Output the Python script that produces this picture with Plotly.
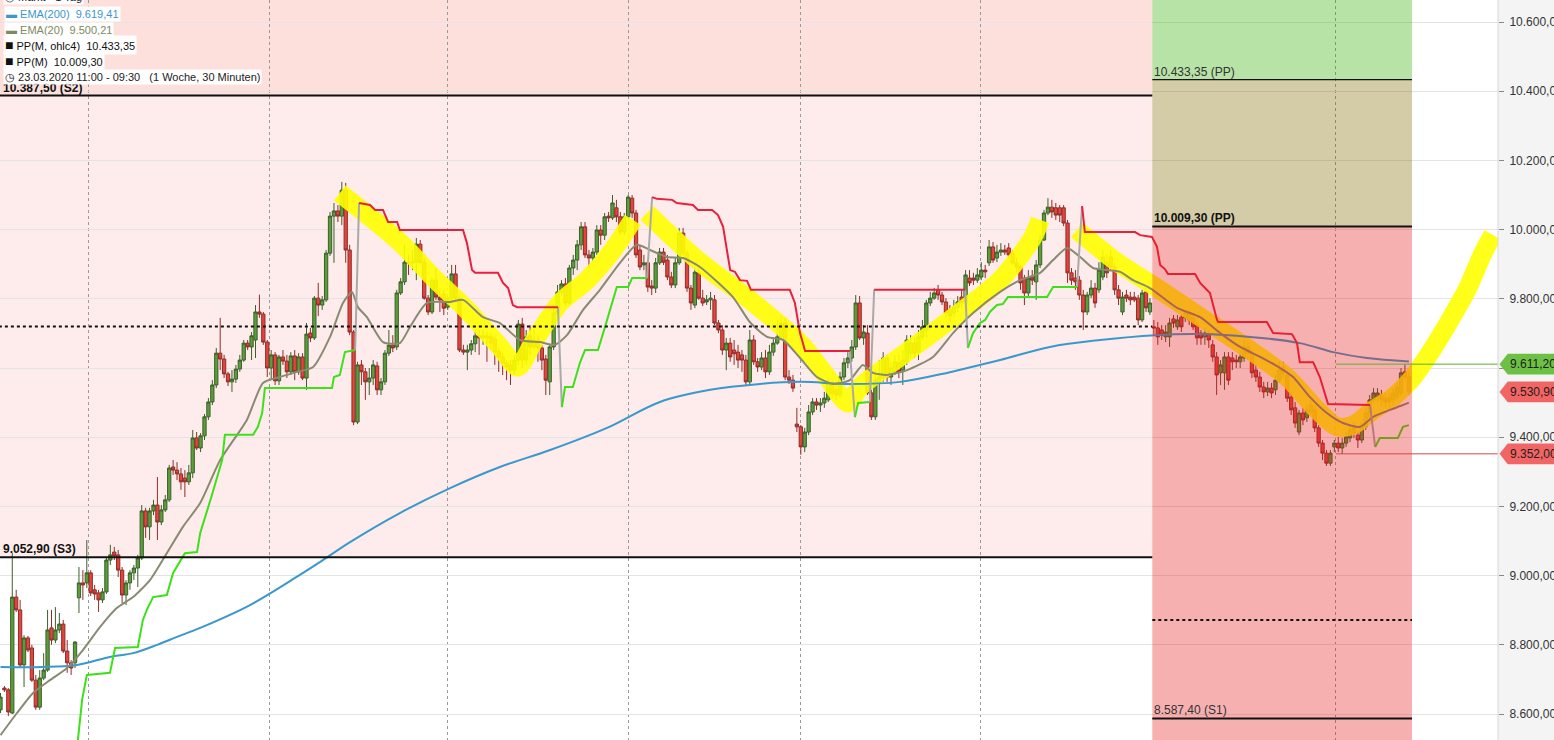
import plotly.graph_objects as go

# ---------------- candle data (30-minute bars) ----------------
opens = [8612, 8675, 8670, 8603, 8938, 8901, 8742, 8820, 8791, 8698,
         8620, 8704, 8727, 8849, 8814, 8843, 8860, 8782, 8748, 8748,
         8936, 8979, 8979, 9008, 8959, 8950, 8930, 8953, 9045, 9068,
         9060, 9016, 8944, 8979, 9008, 9022, 9051, 9187, 9141, 9187,
         9204, 9155, 9190, 9219, 9314, 9305, 9294, 9282, 9271, 9297,
         9398, 9369, 9404, 9459, 9502, 9551, 9643, 9626, 9583, 9560,
         9568, 9597, 9623, 9672, 9661, 9681, 9762, 9756, 9675, 9600,
         9638, 9563, 9632, 9620, 9589, 9635, 9589, 9632, 9571, 9701,
         9687, 9802, 9782, 9797, 9932, 10039, 10054, 10039, 10114, 9941,
         9704, 9444, 9609, 9589, 9560, 9571, 9606, 9537, 9560, 9643,
         9666, 9661, 9817, 9849, 9906, 9904, 9906, 9958, 9906, 9802,
         9762, 9854, 9805, 9814, 9776, 9802, 9872, 9802, 9652, 9646,
         9652, 9670, 9693, 9687, 9693, 9690, 9684, 9649, 9632, 9615,
         9609, 9594, 9623, 9727, 9623, 9693, 9661, 9681, 9658, 9626,
         9560, 9661, 9759, 9820, 9843, 9788, 9889, 9912, 9956, 10008,
         9927, 9918, 9935, 9999, 9984, 10039, 10034, 10063, 10037, 9993,
         10037, 10091, 10048, 9941, 9898, 9904, 9837, 9831, 9904, 9935,
         9912, 9863, 9840, 9904, 9990, 9932, 9831, 9782, 9875, 9802,
         9791, 9797, 9797, 9730, 9710, 9652, 9672, 9652, 9646, 9638,
         9623, 9560, 9681, 9618, 9603, 9629, 9589, 9646, 9672, 9690,
         9730, 9574, 9565, 9438, 9430, 9372, 9415, 9473, 9502, 9493,
         9499, 9508, 9554, 9537, 9522, 9574, 9615, 9629, 9661, 9788,
         9687, 9701, 9528, 9459, 9560, 9571, 9629, 9574, 9589, 9615,
         9594, 9618, 9643, 9672, 9646, 9690, 9710, 9788, 9802, 9826,
         9811, 9791, 9768, 9759, 9776, 9805, 9788, 9860, 9860, 9854,
         9863, 9883, 9904, 9950, 9918, 9935, 9941, 9947, 9932, 9904,
         9892, 9860, 9817, 9863, 9849, 9898, 9970, 10048, 10065, 10063,
         10063, 10063, 10019, 9875, 9860, 9854, 9811, 9762, 9811, 9831,
         9826, 9863, 9906, 9921, 9892, 9826, 9762, 9811, 9805, 9805,
         9802, 9739, 9820, 9762, 9719, 9716, 9710, 9690, 9690, 9742,
         9719, 9747, 9745, 9759, 9745, 9724, 9701, 9690, 9701, 9667,
         9632, 9586, 9586, 9632, 9629, 9623, 9618, 9629, 9661, 9643,
         9594, 9574, 9545, 9531, 9542, 9537, 9565, 9603, 9580, 9516,
         9485, 9415, 9470, 9456, 9473, 9479, 9427, 9383, 9354, 9325,
         9372, 9383, 9369, 9383, 9398, 9427, 9406, 9392, 9430, 9459,
         9508, 9516, 9522, 9513, 9513, 9508, 9516, 9528, 9589, 9574]

closes = [8649, 8670, 8606, 8938, 8901, 8742, 8820, 8785, 8698, 8620,
          8704, 8727, 8843, 8814, 8843, 8860, 8782, 8748, 8733, 8808,
          8979, 8973, 9008, 8950, 8947, 8930, 8953, 9045, 9060, 9057,
          9016, 8944, 8979, 9008, 9022, 9051, 9187, 9141, 9187, 9204,
          9155, 9190, 9219, 9311, 9305, 9294, 9271, 9271, 9297, 9398,
          9369, 9404, 9459, 9502, 9551, 9643, 9626, 9583, 9560, 9568,
          9597, 9623, 9672, 9661, 9693, 9762, 9756, 9675, 9600, 9638,
          9563, 9632, 9620, 9589, 9635, 9589, 9632, 9571, 9698, 9687,
          9802, 9782, 9797, 9932, 10039, 10054, 10039, 10114, 9941, 9704,
          9444, 9609, 9589, 9560, 9571, 9609, 9537, 9560, 9643, 9666,
          9658, 9817, 9849, 9906, 9904, 9906, 9958, 9906, 9802, 9762,
          9854, 9805, 9797, 9773, 9802, 9872, 9802, 9652, 9646, 9652,
          9670, 9693, 9687, 9693, 9687, 9672, 9646, 9632, 9615, 9603,
          9594, 9623, 9727, 9623, 9690, 9661, 9681, 9658, 9623, 9565,
          9661, 9759, 9820, 9843, 9788, 9889, 9912, 9956, 10008, 9927,
          9918, 9935, 9999, 9984, 10037, 10034, 10077, 10037, 9993, 10037,
          10094, 10048, 9927, 9892, 9904, 9834, 9831, 9904, 9935, 9906,
          9863, 9840, 9904, 9990, 9932, 9831, 9788, 9877, 9802, 9788,
          9797, 9802, 9730, 9710, 9652, 9672, 9632, 9641, 9623, 9623,
          9560, 9681, 9618, 9603, 9629, 9589, 9646, 9672, 9690, 9730,
          9574, 9565, 9542, 9430, 9372, 9415, 9473, 9502, 9493, 9499,
          9513, 9557, 9528, 9522, 9574, 9615, 9629, 9661, 9788, 9687,
          9704, 9528, 9459, 9565, 9574, 9629, 9574, 9600, 9618, 9589,
          9623, 9681, 9672, 9643, 9690, 9719, 9788, 9802, 9817, 9811,
          9791, 9759, 9750, 9776, 9791, 9788, 9869, 9846, 9854, 9869,
          9883, 9878, 9950, 9912, 9935, 9941, 9935, 9927, 9904, 9892,
          9846, 9817, 9860, 9854, 9898, 9970, 10048, 10065, 10051, 10042,
          10042, 10019, 9875, 9854, 9849, 9811, 9762, 9811, 9831, 9788,
          9883, 9921, 9875, 9892, 9826, 9802, 9805, 9802, 9797, 9797,
          9739, 9817, 9774, 9788, 9716, 9690, 9695, 9704, 9730, 9730,
          9739, 9719, 9759, 9739, 9719, 9687, 9687, 9701, 9681, 9632,
          9580, 9609, 9632, 9565, 9618, 9618, 9632, 9661, 9643, 9586,
          9574, 9545, 9531, 9542, 9528, 9565, 9594, 9586, 9513, 9479,
          9441, 9470, 9450, 9479, 9493, 9427, 9383, 9354, 9325, 9354,
          9383, 9369, 9383, 9401, 9421, 9412, 9392, 9430, 9470, 9508,
          9528, 9528, 9508, 9502, 9502, 9528, 9545, 9586, 9574, 9531]

highs = [8661, 8681, 8675, 9065, 8959, 8930, 8828, 8826, 8800, 8713,
         8727, 8776, 8901, 8901, 8909, 8892, 8872, 8814, 8756, 8811,
         9025, 9016, 9103, 9016, 8973, 8959, 8964, 9051, 9089, 9083,
         9074, 9025, 8987, 9016, 9031, 9060, 9204, 9196, 9196, 9219,
         9285, 9204, 9233, 9320, 9334, 9328, 9311, 9305, 9320, 9421,
         9415, 9412, 9467, 9513, 9565, 9658, 9745, 9638, 9589, 9594,
         9609, 9638, 9681, 9681, 9704, 9782, 9812, 9762, 9681, 9652,
         9646, 9638, 9652, 9638, 9646, 9652, 9643, 9643, 9730, 9716,
         9808, 9846, 9808, 9941, 10051, 10077, 10071, 10138, 10135, 9956,
         9710, 9618, 9623, 9600, 9600, 9623, 9618, 9571, 9652, 9710,
         9695, 9826, 9860, 9956, 9927, 9941, 9976, 9970, 9918, 9811,
         9860, 9889, 9826, 9826, 9811, 9898, 9898, 9811, 9667, 9667,
         9681, 9710, 9710, 9710, 9704, 9701, 9695, 9658, 9643, 9623,
         9623, 9638, 9739, 9745, 9710, 9724, 9710, 9695, 9667, 9638,
         9667, 9782, 9840, 9854, 9860, 9898, 9927, 9970, 10022, 10022,
         9941, 9947, 10013, 10013, 10048, 10051, 10100, 10086, 10051, 10048,
         10100, 10100, 10057, 9956, 9927, 9912, 9854, 9918, 9947, 9947,
         9927, 9878, 9918, 10005, 10005, 9941, 9840, 9889, 9889, 9826,
         9811, 9820, 9811, 9739, 9724, 9687, 9687, 9681, 9667, 9652,
         9638, 9710, 9695, 9629, 9646, 9652, 9667, 9687, 9739, 9753,
         9745, 9594, 9580, 9485, 9435, 9427, 9493, 9513, 9513, 9513,
         9531, 9571, 9565, 9551, 9589, 9629, 9646, 9681, 9811, 9808,
         9724, 9724, 9537, 9594, 9623, 9646, 9638, 9618, 9638, 9638,
         9652, 9695, 9695, 9687, 9710, 9739, 9797, 9820, 9831, 9840,
         9820, 9802, 9782, 9797, 9808, 9826, 9883, 9883, 9875, 9889,
         9906, 9898, 9970, 9964, 9956, 9961, 9956, 9961, 9941, 9918,
         9898, 9869, 9883, 9883, 9912, 9985, 10057, 10091, 10086, 10077,
         10071, 10071, 10028, 9889, 9883, 9866, 9826, 9820, 9854, 9846,
         9906, 9941, 9927, 9941, 9904, 9840, 9820, 9826, 9820, 9820,
         9811, 9826, 9831, 9802, 9739, 9733, 9724, 9724, 9745, 9753,
         9753, 9756, 9768, 9768, 9753, 9733, 9710, 9716, 9710, 9681,
         9646, 9623, 9646, 9646, 9646, 9638, 9652, 9681, 9675, 9652,
         9609, 9589, 9560, 9560, 9557, 9580, 9618, 9618, 9594, 9531,
         9502, 9479, 9485, 9493, 9508, 9493, 9435, 9392, 9363, 9363,
         9392, 9401, 9398, 9415, 9435, 9444, 9421, 9444, 9485, 9522,
         9542, 9542, 9537, 9528, 9528, 9542, 9560, 9600, 9611, 9589]

lows = [8603, 8664, 8594, 8600, 8895, 8736, 8678, 8779, 8693, 8612,
        8612, 8698, 8722, 8800, 8805, 8834, 8776, 8719, 8713, 8733,
        8892, 8930, 8964, 8941, 8930, 8895, 8921, 8947, 9031, 9045,
        8996, 8921, 8915, 8959, 8987, 8967, 9045, 9109, 9103, 9175,
        9103, 9146, 9184, 9213, 9291, 9276, 9248, 9227, 9262, 9282,
        9363, 9357, 9392, 9450, 9493, 9542, 9594, 9571, 9548, 9531,
        9557, 9589, 9618, 9652, 9623, 9629, 9745, 9667, 9574, 9565,
        9551, 9551, 9609, 9571, 9580, 9565, 9580, 9565, 9537, 9675,
        9681, 9750, 9768, 9791, 9924, 9904, 10022, 10013, 9904, 9695,
        9435, 9438, 9551, 9508, 9522, 9551, 9522, 9522, 9551, 9635,
        9646, 9652, 9811, 9840, 9869, 9883, 9854, 9898, 9797, 9753,
        9756, 9797, 9762, 9753, 9768, 9797, 9797, 9646, 9638, 9594,
        9638, 9646, 9638, 9667, 9618, 9652, 9609, 9589, 9580, 9565,
        9551, 9580, 9609, 9600, 9609, 9638, 9652, 9618, 9594, 9522,
        9522, 9652, 9753, 9811, 9779, 9782, 9869, 9883, 9941, 9918,
        9889, 9906, 9927, 9956, 9970, 10022, 10028, 10022, 9984, 9984,
        10028, 10034, 9918, 9883, 9883, 9820, 9811, 9817, 9898, 9898,
        9854, 9831, 9831, 9898, 9924, 9820, 9768, 9773, 9797, 9779,
        9782, 9768, 9724, 9701, 9638, 9594, 9618, 9609, 9600, 9589,
        9551, 9551, 9609, 9589, 9594, 9571, 9580, 9635, 9667, 9681,
        9565, 9554, 9531, 9415, 9349, 9357, 9406, 9464, 9479, 9473,
        9485, 9502, 9513, 9508, 9513, 9565, 9600, 9618, 9652, 9681,
        9667, 9522, 9450, 9450, 9508, 9560, 9560, 9551, 9580, 9571,
        9551, 9609, 9629, 9629, 9623, 9681, 9687, 9779, 9797, 9797,
        9782, 9745, 9733, 9745, 9762, 9774, 9782, 9837, 9840, 9846,
        9854, 9860, 9895, 9904, 9906, 9924, 9927, 9918, 9898, 9878,
        9826, 9782, 9808, 9840, 9797, 9889, 9967, 10042, 10034, 10028,
        10022, 10010, 9846, 9840, 9826, 9797, 9710, 9753, 9802, 9774,
        9817, 9854, 9860, 9883, 9811, 9782, 9753, 9791, 9782, 9791,
        9724, 9733, 9762, 9753, 9695, 9667, 9681, 9675, 9661, 9716,
        9710, 9704, 9733, 9724, 9710, 9667, 9667, 9667, 9658, 9618,
        9522, 9551, 9537, 9551, 9594, 9600, 9600, 9618, 9623, 9571,
        9560, 9531, 9513, 9519, 9513, 9522, 9557, 9571, 9502, 9464,
        9427, 9406, 9435, 9444, 9464, 9415, 9372, 9334, 9317, 9317,
        9357, 9357, 9352, 9372, 9386, 9398, 9369, 9383, 9421, 9450,
        9499, 9502, 9493, 9485, 9485, 9493, 9508, 9519, 9565, 9522]

bar_x = list(range(len(closes)))

# ---------------- indicator lines ----------------
ema200_x = [0, 10.8, 19.5, 27.9, 33.8, 39.9, 45.0, 50.9, 63.6, 76.3, 81.4, 89.1, 101.8,
            114.6, 127.3, 140.1, 154.6, 168.1, 180.9, 193.6, 203.8, 216.5, 229.3, 242.0,
            254.8, 267.5, 280.3, 294.3, 305.8, 318.5, 331.2, 339.7, 348.3, 359.0]
ema200_y = [8736, 8736, 8742, 8765, 8776, 8800, 8823, 8849, 8915, 9002, 9039, 9097, 9181,
            9253, 9314, 9363, 9427, 9502, 9537, 9554, 9560, 9554, 9560, 9588,
            9623, 9661, 9681, 9695, 9698, 9690, 9672, 9646, 9629, 9619]

ema20_x = [0, 4.2, 8.3, 12.6, 17.0, 21.0, 25.4, 29.7, 33.8, 38.1, 42.4, 46.5, 50.9, 56.0,
           62.8, 66.9, 71.2, 75.6, 79.7, 84.0, 87.3, 89.6, 91.1, 93.4, 97.5, 101.8, 104.4,
           108.7, 114.6, 117.9, 123.0, 127.3, 132.4, 137.5, 141.3, 144.4, 148.5, 152.8,
           157.9, 162.2, 165.6, 169.9, 174.0, 178.3, 186.7, 191.0, 195.4, 199.5, 203.8,
           208.1, 212.2, 216.5, 219.8, 222.4, 225.9, 231.1, 237.7, 242.8, 247.9, 254.8,
           259.9, 265.0, 268.3, 271.9, 275.2, 278.5, 282.1, 285.4, 288.7, 293.0, 299.9,
           305.8, 310.9, 316.0, 321.1, 326.2, 329.5, 333.8, 338.1, 342.2, 346.5, 349.9,
           354.2, 357.5, 359.0]
ema20_y = [8539, 8603, 8661, 8698, 8733, 8785, 8852, 8907, 8938, 8987, 9065, 9141, 9210, 9334,
           9450, 9557, 9574, 9589, 9603, 9690, 9788, 9820, 9776, 9747, 9675, 9672, 9719,
           9788, 9791, 9797, 9747, 9730, 9681, 9675, 9667, 9695, 9768, 9826,
           9904, 9956, 9941, 9921, 9918, 9892, 9805, 9733, 9690, 9681, 9629,
           9574, 9554, 9565, 9609, 9586, 9580, 9594, 9632, 9701, 9759, 9820,
           9854, 9875, 9912, 9947, 9921, 9889, 9883, 9878, 9854, 9831, 9774,
           9747, 9701, 9661, 9632, 9600, 9574, 9516, 9470, 9441, 9430, 9459,
           9479, 9493, 9500]

trail_green_x = [19.2, 20.8, 22.0, 27.9, 29.2, 35.0, 36.3, 37.3, 38.9, 42.4, 44.0, 45.2, 47.0,
                 50.1, 50.9, 53.9, 56.5, 57.2, 64.4, 65.6, 66.7, 67.4, 84.5, 85.0, 86.5, 87.8,
                 90.4, None,
                 143.1, 143.9, 145.9, 147.7, 149.0, 152.3, 154.1, 156.1, 157.1, 160.0, 161.0,
                 164.8, None,
                 217.8, 218.6, 221.6, None,
                 246.6, 247.9, 249.7, 251.0, 252.2, 254.0, 255.5, 256.8, 266.8, 268.3, 274.4,
                 None,
                 350.4, 351.6, 356.2, 357.5, 359.0]
trail_green_y = [8467, 8641, 8713, 8719, 8791, 8794, 8872, 8901, 8938, 8944, 9008, 9031, 9065,
                 9068, 9123, 9233, 9334, 9407, 9407, 9430, 9470, 9542, 9542, 9574, 9580, 9646,
                 9652, None,
                 9487, 9545, 9545, 9615, 9652, 9652, 9719, 9797, 9834, 9834, 9860,
                 9860, None,
                 9458, 9499, 9502, None,
                 9658, 9701, 9730, 9739, 9762, 9782, 9785, 9805, 9805, 9834, 9834,
                 None,
                 9372, 9398, 9398, 9430, 9435]

trail_red_x = [91.4, 94.2, 95.5, 97.5, 98.8, 101.1, 101.8, 117.9, 118.9, 120.2, 121.0, 126.8,
               128.1, 129.4, 130.6, 131.7, 142.1, None,
               166.1, 167.3, 171.2, 172.4, 176.5, 177.8, 181.4, 182.9, 184.2, 185.2, 186.0,
               187.2, 188.5, 190.3, 191.3, 201.2, 202.5, 203.8, 205.1, 216.5, None,
               222.7, 245.9, None,
               275.7, 276.4, 289.2, 290.5, 293.5, 294.8, 295.6, 296.8, 297.6, 304.5, 305.8,
               308.3, 310.1, 310.4, 322.8, 324.4, 329.2, 330.5, 331.2, 334.6, 336.3, 338.4,
               349.1]
trail_red_y = [10077, 10071, 10057, 10057, 10022, 10022, 9999, 9999, 9961, 9883, 9875, 9875,
               9846, 9831, 9782, 9776, 9776, None,
               10094, 10089, 10086, 10077, 10071, 10057, 10057, 10042, 10008, 9941, 9883,
               9878, 9854, 9852, 9826, 9826, 9788, 9701, 9649, 9649, None,
               9826, 9826, None,
               10068, 9993, 9993, 9984, 9979, 9950, 9898, 9886, 9872, 9872, 9846,
               9817, 9739, 9733, 9733, 9701, 9698, 9672, 9617, 9617, 9574, 9496,
               9493]

trail_flip_x = [90.4, 91.4, None, 142.1, 143.1, None, 164.8, 166.1, None, 216.5, 217.8, None,
                221.6, 222.7, None, 245.9, 246.6, None, 274.4, 275.7, None, 349.1, 350.4]
trail_flip_y = [9652, 10077, None, 9776, 9487, None, 9860, 10094, None, 9649, 9458, None,
                9502, 9826, None, 9826, 9658, None, 9834, 10068, None, 9493, 9372]

# hand-drawn yellow trend highlights
band1_x = [86.5, 101.8, 110.2, 118.9, 127.3, 131.9, 135.7, 142.6, 149.5, 156.1, 161.2]
band1_y = [10106, 9964, 9863, 9768, 9661, 9603, 9672, 9788, 9854, 9941, 10028]
band2_x = [164.8, 178.3, 191.0, 203.8, 210.7, 216.0, 219.1, 229.3, 242.0, 254.8, 263.2, 265.0]
band2_y = [10048, 9906, 9797, 9672, 9574, 9499, 9545, 9632, 9739, 9854, 9979, 10028]
band3_x = [274.4, 284.6, 294.3, 305.8, 318.5, 327.9, 335.6, 340.7, 344.8, 349.9, 355.0, 360.1,
           364.4, 369.5, 373.8, 377.9, 380.4]
band3_y = [9999, 9906, 9835, 9748, 9652, 9574, 9479, 9430, 9435, 9479, 9516, 9574,
           9644, 9739, 9826, 9932, 9985]

# ---------------- levels / labels ----------------
day_breaks = [22.5, 68.5, 114.0, 160.0, 203.8, 249.7, 340.4]
month_start, month_end = 293.6, 359.8
s2, s3, prev_mid = 10387.50, 9052.90, 9720.20
pp_ohlc4, pp_m, cur_mid, s1 = 10433.35, 10009.30, 8872.0, 8587.40
day_high, last_price, day_low = 9611.20, 9530.90, 9352.00
day_start = 340.4
y_ticks = [8600, 8800, 9000, 9200, 9400, 9600, 9800, 10000, 10200, 10400, 10600]
y_ticktext = ["8.600,00", "8.800,00", "9.000,00", "9.200,00", "9.400,00", "",
              "9.800,00", "10.000,00", "10.200,00", "10.400,00", "10.600,00"]
Y_RANGE = [8525, 10663.6]
X_RANGE = [-0.127, 381.72]


def de(v):
    s = f"{v:,.2f}"
    return s.replace(",", "X").replace(".", ",").replace("X", ".")


fig = go.Figure()

band_style = dict(color="rgba(255,255,0,0.9)", width=19, shape="spline", smoothing=0.8)
for bx, by in [(band1_x, band1_y), (band2_x, band2_y), (band3_x, band3_y)]:
    fig.add_trace(go.Scatter(x=bx, y=by, mode="lines", line=band_style,
                             hoverinfo="skip", showlegend=False))

fig.add_trace(go.Candlestick(
    x=bar_x, open=opens, high=highs, low=lows, close=closes,
    increasing=dict(fillcolor="#5a9e3a", line=dict(color="#3d5f2c", width=1)),
    decreasing=dict(fillcolor="#e5443c", line=dict(color="#8e2e2a", width=1)),
    whiskerwidth=0, hoverinfo="skip", showlegend=False))

fig.add_trace(go.Scatter(x=ema200_x, y=ema200_y, mode="lines",
                         line=dict(color="#3a98cc", width=2, shape="spline"),
                         hoverinfo="skip", showlegend=False))
fig.add_trace(go.Scatter(x=ema20_x, y=ema20_y, mode="lines",
                         line=dict(color="#8a8a72", width=2, shape="spline", smoothing=0.6),
                         hoverinfo="skip", showlegend=False))
fig.add_trace(go.Scatter(x=trail_flip_x, y=trail_flip_y, mode="lines",
                         line=dict(color="#a9a9a9", width=2),
                         hoverinfo="skip", showlegend=False))
fig.add_trace(go.Scatter(x=trail_green_x, y=trail_green_y, mode="lines",
                         line=dict(color="#3ee01a", width=2),
                         hoverinfo="skip", showlegend=False))
fig.add_trace(go.Scatter(x=trail_red_x, y=trail_red_y, mode="lines",
                         line=dict(color="#e8203c", width=2),
                         hoverinfo="skip", showlegend=False))

shapes = []
# previous month zones (under grid)
shapes.append(dict(type="rect", xref="x", yref="y", x0=-5, x1=month_start, y0=s2, y1=11000,
                   fillcolor="#fde0dc", line_width=0, layer="below"))
shapes.append(dict(type="rect", xref="x", yref="y", x0=-5, x1=month_start, y0=s3, y1=s2,
                   fillcolor="#fdeceb", line_width=0, layer="below"))
# current month zones (translucent, above)
shapes.append(dict(type="rect", xref="x", yref="y", x0=month_start, x1=month_end, y0=pp_ohlc4,
                   y1=11000, fillcolor="rgb(52,175,0)", opacity=0.35, line_width=0, layer="above"))
shapes.append(dict(type="rect", xref="x", yref="y", x0=month_start, x1=month_end, y0=pp_m,
                   y1=pp_ohlc4, fillcolor="rgb(131,108,0)", opacity=0.35, line_width=0,
                   layer="above"))
shapes.append(dict(type="rect", xref="x", yref="y", x0=month_start, x1=month_end, y0=8000,
                   y1=pp_m, fillcolor="rgb(231,29,29)", opacity=0.35, line_width=0,
                   layer="above"))
# level lines
for yv, w, dash in [(s2, 2, "solid"), (s3, 2, "solid"), (prev_mid, 2, "dot")]:
    shapes.append(dict(type="line", xref="x", yref="y", x0=-5, x1=month_start, y0=yv, y1=yv,
                       line=dict(color="#111111", width=w, dash=dash), layer="above"))
for yv, w, dash in [(pp_ohlc4, 1.2, "solid"), (pp_m, 2, "solid"), (cur_mid, 2, "dot"),
                    (s1, 2, "solid")]:
    shapes.append(dict(type="line", xref="x", yref="y", x0=month_start, x1=month_end, y0=yv,
                       y1=yv, line=dict(color="#111111", width=w, dash=dash), layer="above"))
shapes.append(dict(type="line", xref="x", yref="y", x0=day_start, x1=X_RANGE[1], y0=day_high,
                   y1=day_high, line=dict(color="#5aae2e", width=1), layer="above"))
shapes.append(dict(type="line", xref="x", yref="y", x0=day_start, x1=X_RANGE[1], y0=day_low,
                   y1=day_low, line=dict(color="#d84848", width=1), layer="above"))
# axis panel divider
shapes.append(dict(type="line", xref="paper", yref="paper", x0=1, x1=1, y0=0, y1=1,
                   line=dict(color="#d6d6d6", width=1), layer="above"))

annotations = []
# price tags on the axis
tag_h = 30
for val, col in [(day_high, "#6cc044"), (last_price, "#f26565"), (day_low, "#f26565")]:
    path = (f"M 1.0010,{val} L 1.0065,{val + tag_h} L 1.045,{val + tag_h} "
            f"L 1.045,{val - tag_h} L 1.0065,{val - tag_h} Z")
    shapes.append(dict(type="path", xref="paper", yref="y", path=path, fillcolor=col,
                       line_width=0, layer="above"))
    annotations.append(dict(xref="paper", yref="y", x=1.0068, y=val, text=de(val),
                            showarrow=False, xanchor="left", yanchor="middle",
                            font=dict(size=12, color="#1e1e1e")))

# level labels
lab_font = dict(family="Liberation Sans, Arial", size=12, color="#111111")
annotations.append(dict(xref="paper", yref="y", x=0.001, y=s2, yshift=-1,
                        text=f"<b>{de(s2)} (S2)</b>", showarrow=False, xanchor="left",
                        yanchor="bottom", font=lab_font))
annotations.append(dict(xref="paper", yref="y", x=0.001, y=s3, yshift=-1,
                        text=f"<b>{de(s3)} (S3)</b>", showarrow=False, xanchor="left",
                        yanchor="bottom", font=lab_font))
annotations.append(dict(xref="x", yref="y", x=month_start, y=pp_ohlc4, yshift=-1,
                        text=f"{de(pp_ohlc4)} (PP)", showarrow=False, xanchor="left",
                        yanchor="bottom", font=dict(family="Liberation Sans, Arial", size=12,
                                                    color="#333333")))
annotations.append(dict(xref="x", yref="y", x=month_start, y=pp_m, yshift=-1,
                        text=f"<b>{de(pp_m)} (PP)</b>", showarrow=False, xanchor="left",
                        yanchor="bottom", font=lab_font))
annotations.append(dict(xref="x", yref="y", x=month_start, y=s1, yshift=-1,
                        text=f"{de(s1)} (S1)", showarrow=False, xanchor="left",
                        yanchor="bottom", font=dict(family="Liberation Sans, Arial", size=12,
                                                    color="#333333")))

# info legend (top-left)
nb = "\u00a0"
legend_rows = [
    (-3, "◷ Markt - 1 Tag", "#222222", 0.002),
    (14, f"<span style='color:#3a98cc'>▬</span>{nb}EMA(200){nb}{nb}9.619,41", "#3a98cc", 0.003),
    (30, f"▬{nb}EMA(20){nb}{nb}9.500,21", "#7d8a62", 0.003),
    (45, f"<span style='font-size:14px'>■</span>{nb}PP(M,{nb}ohlc4){nb}{nb}{de(pp_ohlc4)}",
     "#111111", 0.002),
    (61, f"<span style='font-size:14px'>■</span>{nb}PP(M){nb}{nb}{de(pp_m)}", "#111111", 0.002),
    (77, f"◷{nb}23.03.2020{nb}11:00{nb}-{nb}09:30{nb}{nb}{nb}(1{nb}Woche,{nb}30{nb}Minuten)",
     "#222222", 0.002),
]
for py, txt, col, xp in legend_rows:
    annotations.append(dict(xref="paper", yref="paper", x=xp, y=1 - py / 740, text=txt,
                            showarrow=False, xanchor="left", yanchor="middle",
                            bgcolor="rgba(255,255,255,0.95)", borderpad=1,
                            font=dict(family="Liberation Sans, Arial", size=11, color=col)))

fig.update_layout(
    width=1554, height=740,
    margin=dict(l=0, r=56, t=0, b=0, autoexpand=False),
    paper_bgcolor="#f4f4f4", plot_bgcolor="#ffffff",
    separators=",.",
    boxgap=0.12, boxgroupgap=0.05,
    showlegend=False,
    shapes=shapes, annotations=annotations,
    font=dict(family="Liberation Sans, Arial", size=12, color="#333333"),
    xaxis=dict(range=X_RANGE, tickvals=day_breaks, showticklabels=False, ticks="",
               showgrid=True, gridcolor="#9a9a9a", griddash="dot", gridwidth=1,
               zeroline=False, showline=False, rangeslider=dict(visible=False),
               fixedrange=True, automargin=False),
    yaxis=dict(range=Y_RANGE, side="right", tickvals=y_ticks, ticktext=y_ticktext,
               ticks="outside", ticklen=5, tickcolor="#888888", ticklabelstandoff=3,
               tickfont=dict(size=12, color="#333333"), automargin=False,
               showgrid=True, gridcolor="#e4e4e4", gridwidth=1, zeroline=False,
               showline=False, fixedrange=True),
)

fig.write_html("out.html", include_plotlyjs=True, config={"displayModeBar": False},
               post_script="document.body.style.margin='0';document.body.style.overflow='hidden';")
